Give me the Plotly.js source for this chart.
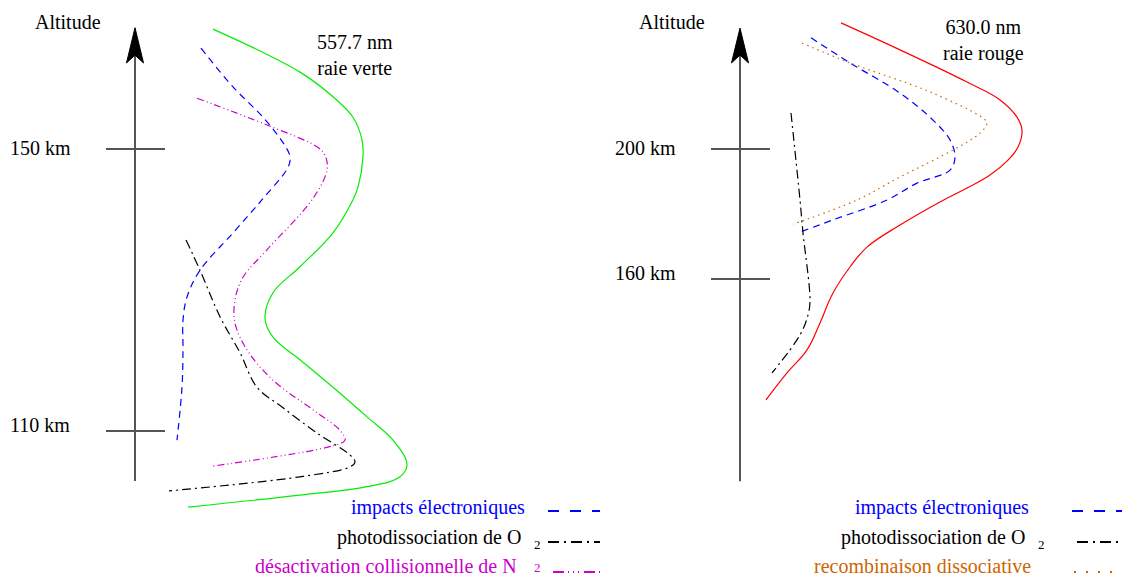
<!DOCTYPE html>
<html>
<head>
<meta charset="utf-8">
<script src="https://cdn.plot.ly/plotly-3.0.1.min.js"></script>
<style>html,body{margin:0;padding:0;background:#fff;}#chart{width:1122px;height:576px;}</style>
</head>
<body>
<div id="chart"></div>
<script>
// ---------- DATA (intensity in arbitrary units, altitude in km) ----------
// Left panel : 557.7 nm (raie verte)
const verte_int = [78,165,198,218,227,228,223,218,198,165,138,130,138,165,198,232,258,272,265,232,165,53];
const verte_alt = [167.0,160.9,157.4,154.5,151.3,148.9,144.6,142.8,138.1,133.3,129.6,126.0,123.3,120.1,116.2,112.0,108.7,105.2,103.5,102.1,100.9,99.2];

const impactsL_int = [66,98,128,148,155,153,127,98,65,52,48,48,47,42];
const impactsL_alt = [164.3,158.8,154.5,150.9,148.9,147.4,142.8,138.1,132.8,129.0,125.7,121.5,116.2,108.7];

const n2_int = [62,132,182,190,192,177,132,108,100,100,112,138,182,205,210,198,77];
const n2_alt = [157.2,153.4,150.3,149.1,147.0,142.8,135.7,131.8,128.6,125.3,121.5,117.2,112.6,110.1,108.7,107.9,105.0];

const o2L_int = [51,65,85,105,122,148,182,215,220,215,165,34];
const o2L_alt = [137.1,132.8,126.2,121.1,116.2,113.3,109.7,106.6,105.6,104.9,103.5,101.5];

// Right panel : 630.0 nm (raie rouge)
const rouge_int = [101,160,227,260,277,282,278,268,250,227,200,160,127,110,93,80,67,47,26];
const rouge_alt = [238.8,230.5,220.6,215.1,209.8,205.8,200.6,196.6,192.0,188.0,183.7,176.6,169.8,163.7,155.7,146.5,138.2,131.1,122.8];

const impactsR_int = [71,110,160,193,210,215,210,177,147,93,58];
const impactsR_alt = [234.2,226.5,217.2,208.9,202.8,197.5,193.5,189.5,184.3,178.2,174.2];

const recomb_int = [62,110,193,243,247,240,213,160,117,53];
const recomb_alt = [232.6,226.5,217.2,209.5,208.0,204.9,199.7,191.4,184.3,176.9];

const o2R_int = [51,60,63,70,68,60,32];
const o2R_alt = [211.1,184.3,174.2,153.5,148.9,142.8,131.1];

// Axes (altitude ticks)
const ticksL = [150, 110];
const ticksR = [200, 160];
const axisL = {bottom: 102.9, notch: 163.3, barb: 162.2, tip: 167.2};
const axisR = {bottom: 97.8, notch: 228.9, barb: 226.5, tip: 237.2};

// Legend labels
const legendL = [
  {text: "impacts électroniques", sub: "", color: "#0000ff", dash: "11px,11px"},
  {text: "photodissociation de O", sub: "2", color: "#000000", dash: "11px,5px,2px,5px"},
  {text: "désactivation collisionnelle de N", sub: "2", color: "#cc00cc", dash: "11px,4px,1px,4px,1px,4px,1px,5px"}
];
const legendR = [
  {text: "impacts électroniques", sub: "", color: "#0000ff", dash: "11px,11px"},
  {text: "photodissociation de O", sub: "2", color: "#000000", dash: "11px,5px,2px,5px"},
  {text: "recombinaison dissociative", sub: "", color: "#cc6600", dash: "2px,10px"}
];

// ---------- STYLE ----------
const FONT = "Liberation Serif, Times New Roman, serif";
const AXC = "#555555";
const W = 1122, H = 576;
const px = x => x / W, py = y => 1 - y / H;

function curve(x, y, color, dash, ax, sm) {
  return {x: x, y: y, type: "scatter", mode: "lines", xaxis: ax[0], yaxis: ax[1],
    line: {color: color, width: 1.2, dash: dash, shape: "spline", smoothing: sm},
    hoverinfo: "skip", showlegend: false};
}
function axisTraces(ticks, a, ax) {
  const tr = [];
  tr.push({x: [0, 0], y: [a.bottom, a.notch], type: "scatter", mode: "lines", xaxis: ax[0], yaxis: ax[1],
    line: {color: AXC, width: 2}, hoverinfo: "skip", showlegend: false});
  tr.push({x: [0, -8.5, 0, 8.5, 0], y: [a.tip, a.barb, a.notch, a.barb, a.tip], type: "scatter", mode: "lines",
    fill: "toself", fillcolor: "#000", xaxis: ax[0], yaxis: ax[1],
    line: {color: "#000", width: 1}, hoverinfo: "skip", showlegend: false});
  ticks.forEach(t => tr.push({x: [-29, 30], y: [t, t], type: "scatter", mode: "lines", xaxis: ax[0], yaxis: ax[1],
    line: {color: AXC, width: 2}, hoverinfo: "skip", showlegend: false}));
  return tr;
}

const L = ["x", "y"], R = ["x2", "y2"];
const traces = [
  ...axisTraces(ticksL, axisL, L),
  ...axisTraces(ticksR, axisR, R),
  curve(verte_int, verte_alt, "#00ee00", "solid", L, 1.1),
  curve(impactsL_int, impactsL_alt, "#0000ff", "7px,5px", L, 1.0),
  curve(n2_int, n2_alt, "#cc00cc", "7px,3px,1px,3px,1px,3px", L, 1.0),
  curve(o2L_int, o2L_alt, "#000000", "9px,4px,2px,4px", L, 1.0),
  curve(rouge_int, rouge_alt, "#ff0000", "solid", R, 1.2),
  curve(impactsR_int, impactsR_alt, "#0000ff", "7px,5px", R, 1.0),
  curve(recomb_int, recomb_alt, "#cc6600", "1.5px,4px", R, 1.0),
  curve(o2R_int, o2R_alt, "#000000", "9px,4px,2px,4px", R, 1.0)
];

const annotations = [];
const txt = (o) => Object.assign({showarrow: false, font: {family: FONT, size: 20, color: "#000"}}, o);
// axis titles & tick labels
annotations.push(txt({xref: "x", yref: "y", x: -67, y: 168.0, text: "Altitude"}));
annotations.push(txt({xref: "x2", yref: "y2", x: -68, y: 239.1, text: "Altitude"}));
ticksL.forEach(t => annotations.push(txt({xref: "x", yref: "y", x: -95, y: t, yshift: t === 110 ? 6 : 1, text: t + " km"})));
ticksR.forEach(t => annotations.push(txt({xref: "x2", yref: "y2", x: -95, y: t, yshift: t === 160 ? 6 : 1, text: t + " km"})));
// line names
annotations.push(txt({xref: "x", yref: "y", x: 220, y: 163.4, text: "557.7 nm<br>raie verte"}));
annotations.push(txt({xref: "x2", yref: "y2", x: 243, y: 233.5, text: "630.0 nm<br>raie rouge"}));

// custom legends
const shapes = [];
function legend(items, textRight, subX, sx0, sx1) {
  const ys = [507, 537, 566];
  const subY = [0, 544, 567];
  items.forEach((it, i) => {
    annotations.push(txt({xref: "paper", yref: "paper", x: px(textRight[i]), y: py(ys[i]), xanchor: "right", yanchor: "middle",
      text: it.text, font: {family: FONT, size: 20, color: it.color}}));
    if (it.sub) annotations.push(txt({xref: "paper", yref: "paper", x: px(subX), y: py(subY[i]), xanchor: "center", yanchor: "middle",
      text: it.sub, font: {family: FONT, size: 13, color: it.color}}));
    const yl = [511, 542, 572][i];
    shapes.push({type: "line", xref: "paper", yref: "paper", x0: px(sx0[i]), x1: px(sx1), y0: py(yl), y1: py(yl),
      line: {color: it.color, width: 2, dash: it.dash}});
  });
}
legend(legendL, [527, 523, 519], 537, [548, 548, 553], 600);
legend(legendR, [1031, 1027, 1033], 1041, [1072, 1077, 1074], 1122);

const layout = {
  width: W, height: H, margin: {l: 0, r: 0, t: 0, b: 0},
  paper_bgcolor: "#fff", plot_bgcolor: "rgba(0,0,0,0)", showlegend: false,
  xaxis: {range: [-135, 987], visible: false, fixedrange: true},
  yaxis: {range: [89.43, 171.13], visible: false, fixedrange: true},
  xaxis2: {range: [-740, 382], visible: false, fixedrange: true, overlaying: "x"},
  yaxis2: {range: [68.62, 245.85], visible: false, fixedrange: true, overlaying: "y"},
  annotations: annotations, shapes: shapes
};
Plotly.newPlot("chart", traces, layout, {staticPlot: true, displayModeBar: false});
</script>
</body>
</html>
